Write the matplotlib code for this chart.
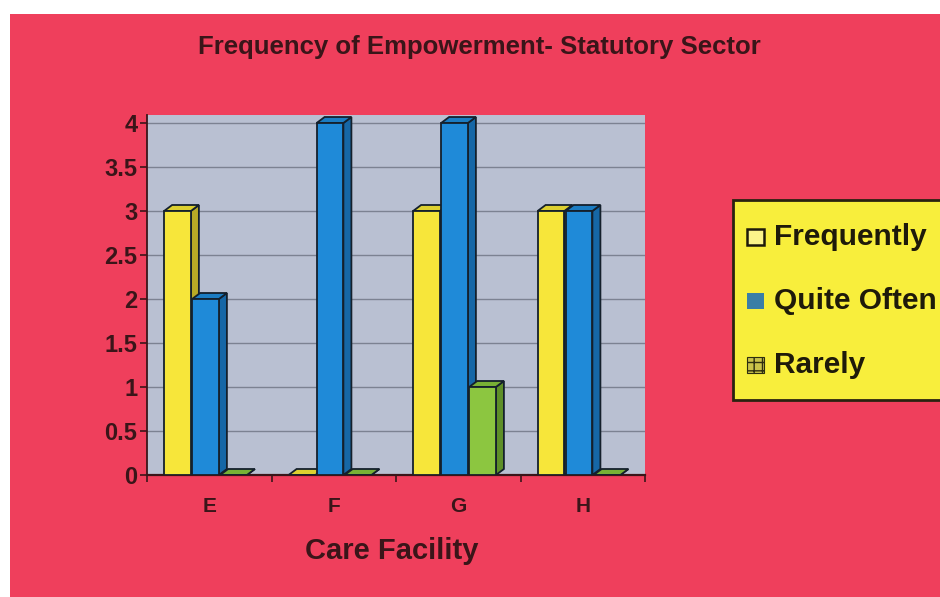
import matplotlib
matplotlib.use("Agg")
import matplotlib.pyplot as plt
from matplotlib.patches import Polygon, Rectangle

# --- Data ---
facilities = ["E", "F", "G", "H"]
series_names = ["Frequently", "Quite Often", "Rarely"]
frequently = [3, 0, 3, 3]
quite_often = [2, 4, 4, 3]
rarely = [0, 0, 1, 0]
y_ticks = [0, 0.5, 1, 1.5, 2, 2.5, 3, 3.5, 4]
y_labels = ["0", "0.5", "1", "1.5", "2", "2.5", "3", "3.5", "4"]

# --- Style ---
W, H = 940, 597
RED = "#ef3f5c"
WALL = "#b9c0d2"
DARK = "#3a1519"
EDGE = "#14202c"
face_cols = ["#f7e63a", "#1f8ad8", "#8cc640"]
side_cols = ["#b8aa26", "#1667a6", "#5e8f28"]
top_cols = ["#ddd030", "#1b7cc2", "#78b035"]
offsets = [-0.255, -0.03, 0.195]
bw = 0.215
dx, dy = 8 / 124.5, 6 / 88

plt.rcParams["font.family"] = ["Liberation Sans", "DejaVu Sans"]
plt.rcParams["font.weight"] = "bold"


def px(x, y):
    return x / W, 1 - y / H


fig = plt.figure(figsize=(W / 100, H / 100), dpi=100)
fig.patch.set_facecolor("white")
fig.add_artist(Rectangle(px(10, 597), 1, (597 - 14) / H, transform=fig.transFigure,
                         facecolor=RED, edgecolor="none", zorder=0))

x0f, y0f = px(147, 475)
ax = fig.add_axes([x0f, y0f, (645 - 147) / W, (475 - 115) / H])
ax.set_facecolor(WALL)
ax.set_xlim(-0.5, 3.5)
ax.set_ylim(0, 360 / 88)

# --- 3D-looking bars ---
for i, vals in enumerate([frequently, quite_often, rarely]):
    z = 3 + i
    for j, v in enumerate(vals):
        xa = j + offsets[i] - bw / 2
        xb = xa + bw
        side = Polygon([(xb, 0), (xb + dx, dy), (xb + dx, v + dy), (xb, v)],
                       facecolor=side_cols[i], edgecolor=EDGE, lw=1.3, zorder=z)
        top = Polygon([(xa, v), (xa + dx, v + dy), (xb + dx, v + dy), (xb, v)],
                      facecolor=top_cols[i], edgecolor=EDGE, lw=1.3, zorder=z)
        ax.add_patch(side)
        ax.add_patch(top)
        ax.add_patch(Rectangle((xa, 0), bw, v, facecolor=face_cols[i],
                               edgecolor=EDGE, lw=1.3, zorder=z))

# --- Axes styling ---
ax.set_axisbelow(True)
ax.yaxis.grid(True, color="#7c8292", lw=1)
for s in ["top", "right"]:
    ax.spines[s].set_visible(False)
ax.spines["left"].set_color(DARK)
ax.spines["bottom"].set_color(DARK)
ax.spines["left"].set_linewidth(1.3)
ax.spines["bottom"].set_linewidth(1.6)

ax.set_yticks(y_ticks)
ax.set_yticklabels(y_labels, fontsize=17, fontweight="bold", color=DARK)
ax.tick_params(axis="y", direction="out", length=5, width=1.2, color=DARK, pad=2)

ax.set_xticks(range(len(facilities)))
ax.set_xticklabels(facilities, fontsize=15, fontweight="bold", color=DARK)
ax.set_xticks([-0.5, 0.5, 1.5, 2.5, 3.5], minor=True)
ax.tick_params(axis="x", which="major", length=0, pad=16)
ax.tick_params(axis="x", which="minor", direction="out", length=5, width=1.2, color=DARK)

# --- Titles ---
fig.text(*px(479, 47), "Frequency of Empowerment- Statutory Sector", ha="center", va="center",
         fontsize=18.5, fontweight="bold", color=DARK)
fig.text(*px(392, 551), "Care Facility", ha="center", va="center",
         fontsize=21, fontweight="bold", color=DARK)

# --- Legend box (runs off the right edge) ---
fig.add_artist(Rectangle(px(733, 400), (970 - 733) / W, 200 / H, transform=fig.transFigure,
                         facecolor="#f8ee3c", edgecolor="#2a2210", lw=2, zorder=5))
marker_styles = [
    dict(facecolor="#fbf48a", edgecolor="#1e1a0a", lw=1.8),
    dict(facecolor="#3a7ea6", edgecolor="none"),
    dict(facecolor="#c9c24a", edgecolor="#2e2e10", hatch="++", lw=0.8),
]
for k, name in enumerate(series_names):
    yc = [237, 301, 365][k]
    fig.add_artist(Rectangle(px(747, yc + 8), 17 / W, 16 / H, transform=fig.transFigure,
                             zorder=6, **marker_styles[k]))
    fig.text(*px(774, yc), name, ha="left", va="center", fontsize=21.5,
             fontweight="bold", color="#1e1a0a", zorder=6)

fig.savefig("out.png", dpi=100)
